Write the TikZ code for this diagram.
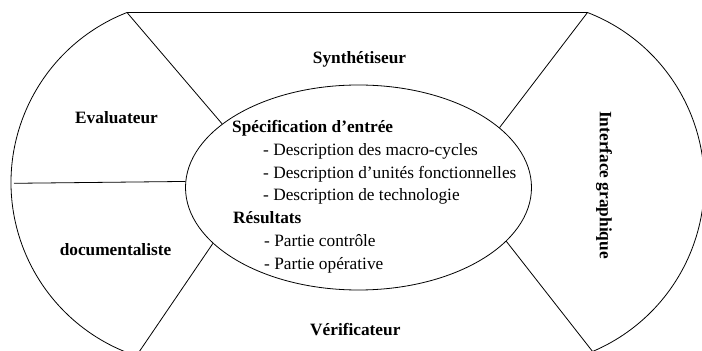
\documentclass[tikz,border=0pt]{standalone}
\usepackage{fontspec}
\setmainfont{Liberation Serif}
\usetikzlibrary{shapes.geometric}
\begin{document}
\begin{tikzpicture}[x=1pt,y=1pt,
  edge/.style={line width=0.8pt},
  role/.style={font=\fontsize{17.3}{20}\selectfont\bfseries,inner sep=0pt,anchor=base},
  head/.style={font=\fontsize{17.3}{20}\selectfont\bfseries,inner sep=0pt,anchor=base west},
  item/.style={font=\fontsize{17.3}{20}\selectfont,inner sep=0pt,anchor=base west}]
\useasboundingbox (0,0) rectangle (702,351);
\clip (0,0) rectangle (702,351);

% central ellipse
\node[ellipse,draw,edge,minimum width=346pt,minimum height=205pt,inner sep=0pt] (core) at (358.5,163.5) {};

% outer frame points
\coordinate (tl) at (127,338.5);
\coordinate (tr) at (587.5,338.5);
\coordinate (bl) at (136.3,-5);
\coordinate (br) at (596.1,-5);
\coordinate (ml) at (14,167.7);

% outer frame
\draw[edge] (tl) -- (tr);
\draw[edge] (tl) arc[start angle=111.4,end angle=252,radius=182.6];
\draw[edge] (tr) arc[start angle=68.8,end angle=-72,radius=182.9];

% spokes from the ellipse
\draw[edge] (tl) -- (core.155.7);
\draw[edge] (tr) -- (core.23.2);
\draw[edge] (core.201.8) -- (bl);
\draw[edge] (core.-20.9) -- (br);
\draw[edge] (ml) -- (core.178.6);

% sector labels
\node[role] (synth) at (359.5,287) {Synthétiseur};
\node[role] (eval) at (116.5,227.7) {Evaluateur};
\node[role] (doc) at (115.5,95.3) {documentaliste};
\node[role] (verif) at (355.3,15.3) {Vérificateur};
\node[font=\fontsize{17.3}{20}\selectfont\bfseries,inner sep=0pt,rotate=-90] (gui) at (604,166) {Interface graphique};

% ellipse contents
\node[head] (spec) at (232,218) {Spécification d’entrée};
\node[item] (d1) at (263,195) {- Description des macro-cycles};
\node[item] (d2) at (263,172) {- Description d’unités fonctionnelles};
\node[item] (d3) at (263,150) {- Description de technologie};
\node[head] (res) at (233,127) {Résultats};
\node[item] (r1) at (264,104) {- Partie contrôle};
\node[item] (r2) at (264,81) {- Partie opérative};
\end{tikzpicture}
\end{document}
